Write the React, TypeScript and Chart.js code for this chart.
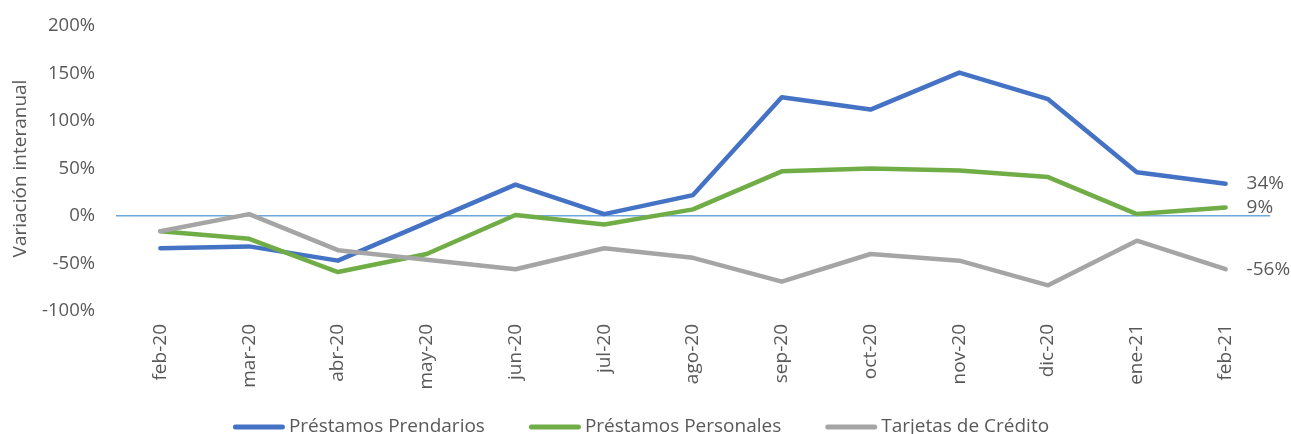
import React, { useEffect, useRef } from "react";
import { Chart, registerables } from "chart.js";

Chart.register(...registerables);

const categories = ["feb-20", "mar-20", "abr-20", "may-20", "jun-20", "jul-20", "ago-20", "sep-20", "oct-20", "nov-20", "dic-20", "ene-21", "feb-21"];
const prendarios = [-34, -32, -47, -7, 33, 2, 22, 125, 112, 151, 123, 46, 34];
const personales = [-16, -24, -59, -40, 1, -9, 7, 47, 50, 48, 41, 2, 9];
const tarjetas = [-16, 2, -36, -46, -56, -34, -44, -69, -40, -47, -73, -26, -56];
const seriesNames = ["Préstamos Prendarios", "Préstamos Personales", "Tarjetas de Crédito"];
const seriesColors = ["#4472C4", "#70AD47", "#A5A5A5"];
const yTicksMin = -100;
const yTicksMax = 200;
const yStep = 50;

const FONT = "'Open Sans', 'Liberation Sans', sans-serif";
const TEXT = "#595959";

export default function App() {
  const ref = useRef<HTMLCanvasElement | null>(null);
  useEffect(() => {
    document.body.style.margin = "0";
    const endLabels = {
      id: "endLabels",
      afterDatasetsDraw(chart: any) {
        const ctx = chart.ctx;
        ctx.save();
        ctx.font = `19px ${FONT}`;
        ctx.fillStyle = TEXT;
        ctx.textAlign = "left";
        ctx.textBaseline = "middle";
        chart.data.datasets.forEach((ds: any, i: number) => {
          const meta = chart.getDatasetMeta(i);
          const pt = meta.data[meta.data.length - 1];
          const v = ds.data[ds.data.length - 1];
          ctx.fillText(`${v}%`, pt.x + 21, pt.y);
        });
        ctx.restore();
      },
    };
    const customLegend = {
      id: "customLegend",
      afterDraw(chart: any) {
        const ctx = chart.ctx;
        ctx.save();
        ctx.font = `19px ${FONT}`;
        ctx.textBaseline = "middle";
        ctx.textAlign = "left";
        const lineLen = 52;
        const gap = 4;
        const spacing = 44;
        const widths = seriesNames.map((n) => lineLen + gap + ctx.measureText(n).width);
        const total = widths.reduce((a, b) => a + b, 0) + spacing * (widths.length - 1);
        let x = chart.width / 2 - 4.5 - total / 2;
        const y = 427;
        seriesNames.forEach((n, i) => {
          ctx.strokeStyle = seriesColors[i];
          ctx.lineWidth = 5;
          ctx.lineCap = "round";
          ctx.beginPath();
          ctx.moveTo(x + 2.5, y);
          ctx.lineTo(x + lineLen - 2.5, y);
          ctx.stroke();
          ctx.fillStyle = TEXT;
          ctx.fillText(n, x + lineLen + gap, y);
          x += widths[i] + spacing;
        });
        ctx.restore();
      },
    };
    const data = [prendarios, personales, tarjetas];
    const chart = new Chart(ref.current!, {
      type: "line",
      data: {
        labels: categories,
        datasets: data.map((d, i) => ({
          label: seriesNames[i],
          data: d,
          borderColor: seriesColors[i],
          backgroundColor: seriesColors[i],
          borderWidth: 4.5,
          pointRadius: 0,
          tension: 0,
          borderCapStyle: "round" as const,
          borderJoinStyle: "round" as const,
          order: 3 - i,
        })),
      },
      options: {
        animation: false,
        responsive: false,
        maintainAspectRatio: false,
        layout: { padding: { top: 26, right: 21, left: 0, bottom: 45 } },
        plugins: {
          tooltip: { enabled: false },
          legend: { display: false },
        },
        scales: {
          x: {
            offset: true,
            grid: { display: false, drawTicks: false },
            border: { display: false },
            ticks: {
              color: TEXT,
              font: { family: FONT, size: 19 },
              minRotation: 90,
              maxRotation: 90,
              padding: 13,
              autoSkip: false,
            },
            afterFit: (s: any) => {
              s.height = 78;
            },
          },
          y: {
            min: yTicksMin,
            max: yTicksMax,
            border: { display: false },
            grid: {
              drawTicks: true,
              tickLength: 18,
              tickColor: "rgba(0,0,0,0)",
              color: (c: any) => (c.tick && c.tick.value === 0 ? "#6FA8DC" : "rgba(0,0,0,0)"),
              lineWidth: 1.5,
            },
            ticks: {
              stepSize: yStep,
              color: TEXT,
              font: { family: FONT, size: 18.5 },
              padding: 3,
              callback: (v: any) => `${v}%`,
            },
            title: {
              display: true,
              text: "Variación interanual",
              color: TEXT,
              font: { family: FONT, size: 19 },
              padding: { top: 9, bottom: 0 },
            },
            afterFit: (s: any) => {
              s.width = 116;
            },
          },
        },
      },
      plugins: [endLabels, customLegend],
    } as any);
    return () => chart.destroy();
  }, []);
  return (
    <div style={{ position: "absolute", left: 0, top: 0, width: 1291, height: 434 }}>
      <canvas ref={ref} width={1291} height={434} />
    </div>
  );
}
